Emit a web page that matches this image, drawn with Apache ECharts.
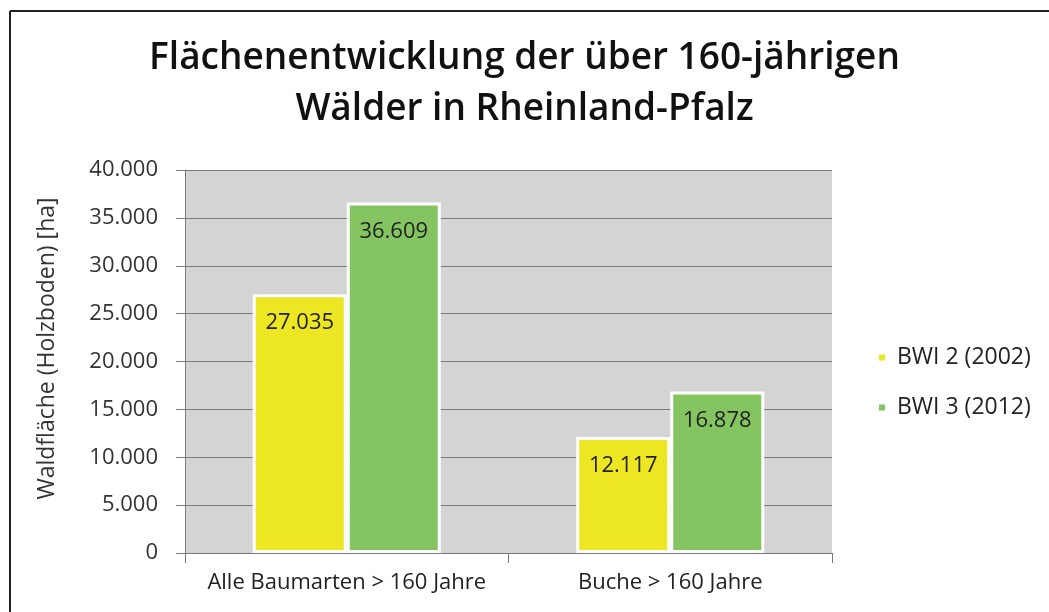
<!DOCTYPE html>
<html>
<head>
<meta charset="utf-8">
<script src="https://cdn.jsdelivr.net/npm/echarts@6/dist/echarts.min.js"></script>
<style>
html,body{margin:0;padding:0;background:#fff;}
#chart{width:1049px;height:612px;}
</style>
</head>
<body>
<div id="chart"></div>
<script>
const titleText = 'Flächenentwicklung der über 160-jährigen\nWälder in Rheinland-Pfalz';
const categories = ['Alle Baumarten > 160 Jahre', 'Buche > 160 Jahre'];
const seriesNames = ['BWI 2 (2002)', 'BWI 3 (2012)'];
const bwi2 = [27035, 12117];
const bwi3 = [36609, 16878];
const yAxisName = 'Waldfläche (Holzboden) [ha]';

const fmt = v => Number(v).toLocaleString('de-DE');
const FONT = "'Open Sans', 'Noto Sans', sans-serif";
const FS = 22;

const chart = echarts.init(document.getElementById('chart'));
chart.setOption({
  backgroundColor: '#ffffff',
  animation: false,
  title: {
    text: titleText,
    left: 'center',
    top: 28,
    textStyle: {
      fontFamily: FONT, fontWeight: 600, fontSize: 37, color: '#111', lineHeight: 51
    }
  },
  legend: {
    orient: 'vertical',
    left: 872,
    top: 341,
    itemWidth: 8,
    itemHeight: 8,
    itemGap: 27,
    icon: 'rect',
    textStyle: { fontFamily: FONT, fontSize: 23, color: '#222', padding: [0,0,0,6] },
    data: seriesNames
  },
  graphic: [
    { type: 'line', shape: { x1: 10, y1: 11, x2: 1049, y2: 11 }, style: { stroke: '#222', lineWidth: 2 } },
    { type: 'line', shape: { x1: 10, y1: 11, x2: 10, y2: 612 }, style: { stroke: '#222', lineWidth: 2 } }
  ],
  grid: {
    left: 185, top: 170, right: 217, bottom: 59,
    show: true, backgroundColor: '#d4d4d4', borderWidth: 0
  },
  xAxis: {
    type: 'category',
    data: categories,
    axisLine: { lineStyle: { color: '#7a7a7a', width: 1 } },
    axisTick: { show: true, length: 10, lineStyle: { color: '#7a7a7a' } },
    axisLabel: { interval: 0, hideOverlap: false, fontFamily: FONT, fontSize: FS, color: '#222', margin: 19 }
  },
  yAxis: {
    type: 'value',
    min: 0, max: 40000, interval: 5000,
    name: yAxisName,
    nameLocation: 'middle',
    nameGap: 126,
    nameRotate: 90,
    nameTextStyle: { fontFamily: FONT, fontSize: 23, color: '#333', padding: [0, 0, 0, 26] },
    axisLine: { show: true, lineStyle: { color: '#7a7a7a', width: 1 } },
    axisTick: { show: true, length: 9, lineStyle: { color: '#7a7a7a' } },
    splitLine: { lineStyle: { color: '#7a7a7a', width: 1 } },
    axisLabel: { fontFamily: FONT, fontSize: FS, color: '#333', margin: 27, formatter: fmt }
  },
  series: [
    {
      name: seriesNames[0], type: 'bar', data: bwi2,
      barWidth: 94, barGap: '0%',
      itemStyle: { color: '#ece623', borderColor: '#ffffff', borderWidth: 3 },
      label: { show: true, position: 'insideTop', distance: 18, formatter: p => fmt(p.value),
               fontFamily: FONT, fontSize: FS, color: '#222' }
    },
    {
      name: seriesNames[1], type: 'bar', data: bwi3,
      barWidth: 94, barGap: '0%',
      itemStyle: { color: '#84c561', borderColor: '#ffffff', borderWidth: 3 },
      label: { show: true, position: 'insideTop', distance: 18, formatter: p => fmt(p.value),
               fontFamily: FONT, fontSize: FS, color: '#222' }
    }
  ]
});
</script>
</body>
</html>
